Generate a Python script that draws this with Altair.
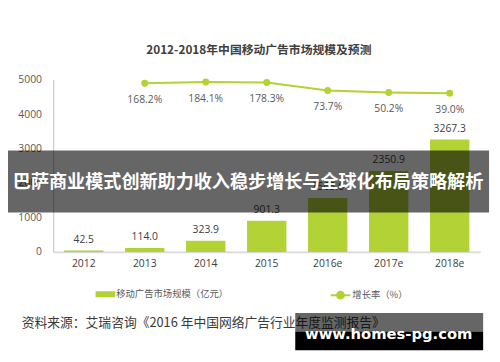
import altair as alt
import pandas as pd

years = ["2012", "2013", "2014", "2015", "2016e", "2017e", "2018e"]
market = [42.5, 114.0, 323.9, 901.3, 1565.6, 2350.9, 3267.3]
growth_years = ["2013", "2014", "2015", "2016e", "2017e", "2018e"]
growth = [168.2, 184.1, 178.3, 73.7, 50.2, 39.0]
y_ticks = [0, 1000, 2000, 3000, 4000, 5000]

title_text = "2012-2018年中国移动广告市场规模及预测"
bar_series = "移动广告市场规模（亿元）"
line_series = "增长率（%）"
banner_text = "巴萨商业模式创新助力收入稳步增长与全球化布局策略解析"
source_text = "资料来源：艾瑞咨询《2016 年中国网络广告行业年度监测报告》"
watermark_text = "www.homes-pg.com"

GREEN = "#b2d235"
FONT = "Open Sans, Noto Sans CJK SC, sans-serif"
CJK = "Noto Sans CJK SC, sans-serif"

bars_df = pd.DataFrame({
    "year": years,
    "value": market,
    "series": bar_series,
    "label": [f"{v:.1f}" for v in market],
})
line_df = pd.DataFrame({
    "year": growth_years,
    "rate": growth,
    "series": line_series,
    "label": [f"{v:.1f}%" for v in growth],
})
one = pd.DataFrame({"k": [0]})

x_enc = alt.X(
    "year:N", sort=years, title=None,
    scale=alt.Scale(paddingInner=0.355, paddingOuter=0.1775),
    axis=alt.Axis(labelAngle=0, ticks=False, domainColor="#d9d9d9", domainWidth=2,
                  labelPadding=7, labelFontSize=10.5, labelColor="#404040", labelFont=FONT),
)
y_bar = alt.Y(
    "value:Q", title=None,
    scale=alt.Scale(domain=[0, 5000], nice=False),
    axis=alt.Axis(values=y_ticks, ticks=False, grid=False, domainColor="#bfbfbf",
                  labelPadding=12, labelFontSize=10.5, labelColor="#595959",
                  labelFont=FONT, format="d"),
)
y_rate = alt.Y("rate:Q", scale=alt.Scale(domain=[-2013, 214], nice=False, zero=False), axis=None)

bars = alt.Chart(bars_df).mark_bar().encode(
    x=x_enc, y=y_bar,
    fill=alt.Fill("series:N", scale=alt.Scale(domain=[bar_series], range=[GREEN]),
                  legend=alt.Legend(orient="none", legendX=43, legendY=208, title=None,
                                    symbolType="M-1,-0.3H1V0.3H-1Z", symbolSize=400,
                                    symbolStrokeWidth=0,
                                    labelFontSize=9.5, labelColor="#595959", labelFont=CJK,
                                    labelOffset=1, padding=0)),
)
bar_labels = alt.Chart(bars_df).mark_text(dy=-11, fontSize=10.5, color="#404040", font=FONT).encode(
    x=x_enc, y=y_bar, text="label:N"
)

line = alt.Chart(line_df).mark_line(strokeWidth=2).encode(
    x=x_enc, y=y_rate,
    stroke=alt.Stroke("series:N", scale=alt.Scale(domain=[line_series], range=[GREEN]),
                      legend=alt.Legend(orient="none", legendX=281, legendY=208, title=None,
                                        symbolType="M-1,0L1,0M-0.35,0A0.35,0.35 0 1,0 0.35,0A0.35,0.35 0 1,0 -0.35,0Z",
                                        symbolSize=400, symbolStrokeWidth=2,
                                        symbolFillColor=GREEN,
                                        labelFontSize=9.5, labelColor="#595959", labelFont=CJK,
                                        labelOffset=1, padding=0)),
)
points = alt.Chart(line_df).mark_point(filled=True, size=50, color=GREEN, opacity=1).encode(
    x=x_enc, y=y_rate
)
rate_labels = alt.Chart(line_df).mark_text(dy=17, fontSize=10.5, color="#595959", font=FONT).encode(
    x=x_enc, y=y_rate, text="label:N"
)

left = alt.layer(bars, bar_labels)
right = alt.layer(line, points, rate_labels)

title = alt.Chart(one).mark_text(fontSize=12, fontWeight="bold", color="#404040", font=CJK,
                                 baseline="middle").encode(
    x=alt.value(209), y=alt.value(-30), text=alt.value(title_text))

banner = alt.Chart(one).mark_rect(color="black", opacity=0.6).encode(
    x=alt.value(-46), x2=alt.value(443), y=alt.value(72), y2=alt.value(135))
banner_t = alt.Chart(one).mark_text(fontSize=18.4, fontWeight="bold", color="white", font=CJK,
                                    baseline="middle").encode(
    x=alt.value(198), y=alt.value(104), text=alt.value(banner_text))

source = alt.Chart(one).mark_text(fontSize=13, color="#3a3a3a", font=CJK, align="left",
                                  baseline="middle").encode(
    x=alt.value(-32), y=alt.value(247), text=alt.value(source_text))

wm1 = alt.Chart(one).mark_rect(color="black", opacity=0.6).encode(
    x=alt.value(246), x2=alt.value(437), y=alt.value(237), y2=alt.value(256))
wm2 = alt.Chart(one).mark_rect(color="black", opacity=1).encode(
    x=alt.value(246), x2=alt.value(437), y=alt.value(256), y2=alt.value(275))
wm_t = alt.Chart(one).mark_text(fontSize=15, fontWeight="bold", color="white",
                                font="DejaVu Sans", baseline="middle").encode(
    x=alt.value(341), y=alt.value(259), text=alt.value(watermark_text))

chart = alt.layer(
    alt.layer(left, right).resolve_scale(y="independent"),
    title, banner, banner_t, source, wm1, wm2, wm_t,
).properties(
    width=434, height=175,
    padding={"left": 46, "top": 70, "right": 12, "bottom": 109},
    autosize=alt.AutoSizeParams(type="none"),
    background="white",
).configure_view(stroke=None)

chart.save("out.html", embed_options={"renderer": "svg", "actions": False})
